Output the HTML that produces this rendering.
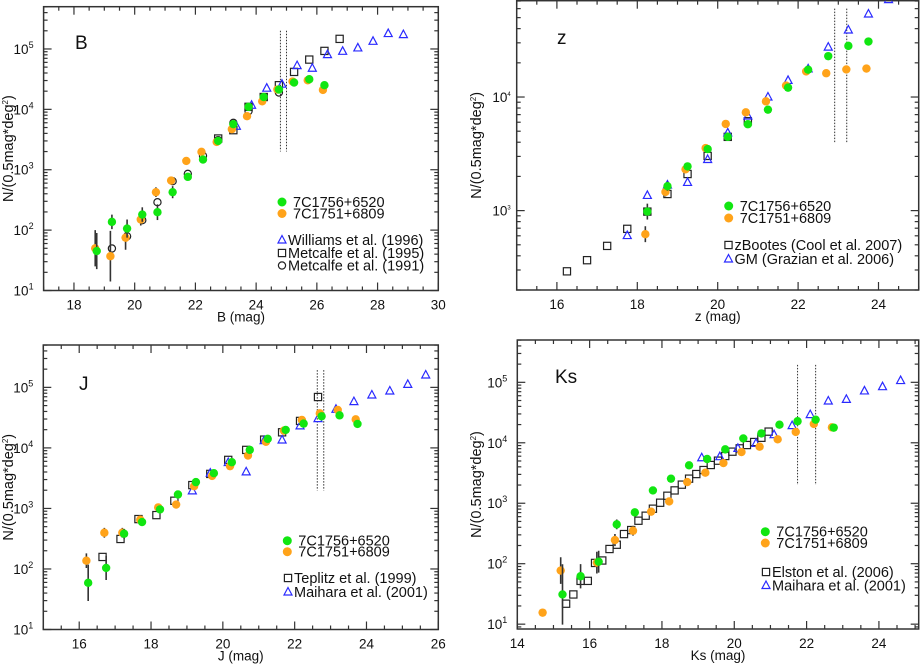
<!DOCTYPE html>
<html><head><meta charset="utf-8"><style>
html,body{margin:0;padding:0;background:#fff;}
svg{display:block;font-family:"Liberation Sans",sans-serif;}
</style></head><body>
<svg id="fig" width="920" height="664" viewBox="0 0 920 664" xmlns="http://www.w3.org/2000/svg"></svg>
<script>
// ---- Panel B data ----
const bGreenX=[18.75,19.25,19.75,20.25,20.75,21.25,21.75,22.25,22.75,23.25,23.75,24.25,24.75,25.25,25.75,26.25];
const bGreenY=[45,137,106,181,198,425,762,1475,3000,5680,11000,16000,21300,27800,31500,25100];
const bGreenErr=[0.3,0.12,0.15,0.12,0.13,0.1,0.04,0.03,0.02,0.02,0.02,0.02,0.02,0.02,0.02,0.02];
const bOrangeX=[18.7,19.2,19.7,20.2,20.7,21.2,21.7,22.2,22.7,23.2,23.7,24.2,24.7,25.2,25.7,26.2];
const bOrangeY=[50,37,75,150,425,662,1400,1980,2890,4690,7700,13600,21300,28900,30300,21000];
const bOrangeErr=[0.3,0.42,0.2,0.1,0.08,0.05,0.03,0.02,0.02,0.02,0.02,0.02,0.02,0.02,0.02,0.02];
const bSqX=[22.75,23.25,23.75,24.25,24.75,25.25,25.75,26.25,26.75];
const bSqY=[3290,4520,11000,16000,25100,41700,66700,92900,147000];
const bCircX=[19.25,19.75,20.25,20.75,21.25,21.75,22.25,22.75,23.25,23.75,24.75];
const bCircY=[49.6,79,146,290,646,855,1700,3090,5970,9330,19000];
const bTriX=[23.35,23.85,24.35,24.85,25.35,25.85,26.35,26.85,27.35,27.85,28.35,28.85];
const bTriY=[5250,11700,22400,26100,53000,48000,80700,91400,104000,134000,180000,173000];
const bLimits=[24.8,25.0];
// ---- Panel z data ----
const zGreenX=[18.25,18.75,19.25,19.75,20.25,20.75,21.25,21.75,22.25,22.75,23.25,23.75];
const zGreenY=[980,1640,2450,3480,4460,5760,7740,12100,17400,22900,28200,30800];
const zGreenErr=[0.07,0.04,0.03,0.02,0.02,0.02,0.02,0.02,0.02,0.02,0.02,0.02];
const zOrangeX=[18.2,18.7,19.2,19.7,20.2,20.7,21.2,21.7,22.2,22.7,23.2,23.7];
const zOrangeY=[620,1460,2310,3550,5800,7330,9160,12600,16800,16200,17500,17800];
const zOrangeErr=[0.07,0.04,0.03,0.02,0.02,0.02,0.02,0.02,0.02,0.02,0.02,0.02];
const zSqX=[16.25,16.75,17.25,17.75,18.25,18.75,19.25,19.75,20.25,20.75];
const zSqY=[292,366,489,691,980,1400,2100,3030,4460,6120];
const zTriX=[17.75,18.25,18.75,19.25,19.75,20.25,20.75,21.25,21.75,22.25,22.75,23.25,23.75,24.25];
const zTriY=[603,1360,1680,1770,2820,4830,6810,10000,14000,17700,27500,38900,53800,72000];
const zLimits=[22.91,23.21];
// ---- Panel J data ----
const jGreenX=[16.25,16.75,17.25,17.75,18.25,18.75,19.25,19.75,20.25,20.75,21.25,21.75,22.25,22.75,23.25,23.75];
const jGreenY=[59,104,382,596,964,1700,2720,3820,5800,9270,14100,19800,25200,33300,34500,24900];
const jGreenErr=[0.3,0.2,0.08,0.06,0.03,0.02,0.02,0.02,0.02,0.02,0.02,0.02,0.02,0.02,0.02,0.02];
const jOrangeX=[16.2,16.7,17.2,17.7,18.2,18.7,19.2,19.7,20.2,20.7,21.2,21.7,22.2,22.7,23.2,23.7];
const jOrangeY=[137,397,397,650,1040,1160,2330,3450,4990,7480,12600,19300,29000,37200,42300,29700];
const jOrangeErr=[0.12,0.08,0.08,0.05,0.03,0.03,0.02,0.02,0.02,0.02,0.02,0.02,0.02,0.02,0.02,0.02];
const jSqX=[16.65,17.15,17.65,18.15,18.65,19.15,19.65,20.15,20.65,21.15,21.65,22.15,22.65];
const jSqY=[158,313,667,776,1340,2430,3720,6340,9270,13700,18100,27900,69300];
const jTriX=[19.15,19.65,20.15,20.65,21.15,21.65,22.15,22.65,23.15,23.65,24.15,24.65,25.15,25.65];
const jTriY=[1950,3820,5730,4020,13200,13500,23100,30500,43400,58100,74800,87100,112000,160000];
const jLimits=[22.63,22.81];
// ---- Panel Ks data ----
const kGreenX=[15.25,15.75,16.25,16.75,17.25,17.75,18.25,18.75,19.25,19.75,20.25,20.75,21.25,21.75,22.25,22.75];
const kGreenY=[31,62,108,447,706,1630,2550,4240,5390,7780,11800,14300,19900,22700,24100,17800];
const kGreenErr=[0.5,0.2,0.18,0.08,0.06,0.03,0.02,0.02,0.02,0.02,0.02,0.02,0.02,0.02,0.02,0.02];
const kOrangeX=[14.7,15.2,16.2,16.7,17.2,17.7,18.2,18.7,19.2,19.7,20.2,20.7,21.2,21.7,22.2,22.7];
const kOrangeY=[15.5,77,104,246,351,725,1070,2240,3200,4620,7030,8610,11400,15100,20500,18000];
const kOrangeErr=[0.05,0.22,0.18,0.1,0.08,0.04,0.03,0.02,0.02,0.02,0.02,0.02,0.02,0.02,0.02,0.02];
const kSqX=[15.35,15.55,15.75,15.95,16.15,16.35,16.55,16.75,16.95,17.15,17.35,17.55,17.75,17.95,18.15,18.35,18.55,18.75,18.95,19.15,19.35,19.55,19.75,19.95,20.15,20.35,20.55,20.75,20.95];
const kSqY=[21.8,31,52,52,103,113,175,206,309,360,514,622,812,1020,1330,1630,2030,2550,3040,3540,4290,5060,6040,7130,8090,9180,10300,12100,15300];
const kTriX=[19.1,19.6,20.1,20.6,21.1,21.6,22.1,22.6,23.1,23.6,24.1,24.6];
const kTriY=[5660,5890,8090,9790,13600,19200,29200,49100,52300,72000,84700,107000];
const kLimits=[21.75,22.25];

const NS="http://www.w3.org/2000/svg";
const svg=document.getElementById('fig');
function el(tag,attrs,parent){const e=document.createElementNS(NS,tag);for(const k in attrs)e.setAttribute(k,attrs[k]);(parent||svg).appendChild(e);return e;}
const GREEN="#11e611",ORANGE="#ffa31a",BLUE="#2a2aff";

function panel(cfg){
  const g=el('g',{});
  
  
  const X=m=>cfg.l+(m-cfg.x0)/(cfg.x1-cfg.x0)*(cfg.r-cfg.l);
  const Y=v=>cfg.b-(Math.log10(v)-cfg.y0)/(cfg.y1-cfg.y0)*(cfg.b-cfg.t);
  const clip='clip-'+cfg.name;
  const cp=el('clipPath',{id:clip},g);el('rect',{x:cfg.l,y:cfg.t,width:cfg.r-cfg.l,height:cfg.b-cfg.t},cp);
  const fr=el('rect',{x:cfg.l,y:cfg.t,width:cfg.r-cfg.l,height:cfg.b-cfg.t,fill:'none',stroke:'#333','stroke-width':1.5},g);
  
  
  for(let m=Math.ceil(cfg.x0*2)/2;m<=cfg.x1+1e-6;m+=0.5){
    const major=Math.abs(m/2-Math.round(m/2))<1e-6;
    const L=major?8:4,x=X(m);
    el('line',{x1:x,x2:x,y1:cfg.b,y2:cfg.b-L,stroke:'#333','stroke-width':1.2},g);
    el('line',{x1:x,x2:x,y1:cfg.t,y2:cfg.t+L,stroke:'#333','stroke-width':1.2},g);
    if(major){const t=el('text',{x:x,y:cfg.b+19,'text-anchor':'middle','font-size':13.5,fill:'#111'},g);t.textContent=String(m);
      
      }
  }
  for(let d=Math.floor(cfg.y0);d<=Math.ceil(cfg.y1);d++){
    for(let k=1;k<10;k++){
      const lv=d+Math.log10(k);if(lv<cfg.y0-1e-6||lv>cfg.y1+1e-6)continue;
      const y=Y(Math.pow(10,lv)),L=k===1?8:4;
      el('line',{x1:cfg.l,x2:cfg.l+L,y1:y,y2:y,stroke:'#333','stroke-width':1.2},g);
      el('line',{x1:cfg.r,x2:cfg.r-L,y1:y,y2:y,stroke:'#333','stroke-width':1.2},g);
      if(k===1){const t=el('text',{x:cfg.l-4-(cfg.supSmall?2:6),y:y+5,'text-anchor':'end','font-size':13.5,fill:'#111'},g);
        t.textContent='10';const s=el('tspan',{dy:-6,'font-size':cfg.supSmall?6:9},t);s.textContent=String(d);
        
        }
    }
  }
  const xt=el('text',{x:(cfg.l+cfg.r)/2,y:cfg.b+31,'text-anchor':'middle','font-size':13.5,fill:'#111'},g);xt.textContent=cfg.xlabel;
  
  
  const yc=(cfg.t+cfg.b)/2,yx=cfg.ylabX;
  const yt=el('text',{x:yx,y:yc,'text-anchor':'middle','font-size':14.5,fill:'#111',transform:`rotate(-90 ${yx} ${yc})`},g);
  yt.textContent='N/(0.5mag*deg';const sp=el('tspan',{dy:-5,'font-size':8},yt);sp.textContent='2';const sp2=el('tspan',{dy:5},yt);sp2.textContent=')';
  
  
  const pl=el('text',{x:cfg.lab[0],y:cfg.lab[1],'font-size':19,fill:'#111'},g);pl.textContent=cfg.letter;
  
  
  const pg=el('g',{'clip-path':`url(#${clip})`},g);
  cfg.limits.forEach(m=>{const ln=el('line',{x1:X(m),x2:X(m),y1:Y(cfg.limTop),y2:Y(cfg.limBot),stroke:'#333','stroke-width':1,'stroke-dasharray':'1.5,1.5'},pg);
    
    });
  function sq(xs,ys){xs.forEach((m,i)=>{const r=el('rect',{x:X(m)-3.6,y:Y(ys[i])-3.6,width:7.2,height:7.2,fill:'none',stroke:'#222','stroke-width':1.2},pg);
    
    });}
  function circ(xs,ys){xs.forEach((m,i)=>{const c=el('circle',{cx:X(m),cy:Y(ys[i]),r:3.6,fill:'none',stroke:'#222','stroke-width':1.2},pg);
    
    });}
  function tri(xs,ys){xs.forEach((m,i)=>{const x=X(m),y=Y(ys[i]);const p=el('polygon',{points:`${x},${y-4.5} ${x-4},${y+3} ${x+4},${y+3}`,fill:'none',stroke:BLUE,'stroke-width':1.2},pg);
    
    });}
  function dots(xs,ys,errs,col,nm){xs.forEach((m,i)=>{const x=X(m),v=ys[i],e=errs[i];
    const eb=el('line',{x1:x,x2:x,y1:Y(v*Math.pow(10,e)),y2:Y(v/Math.pow(10,e)),stroke:'#333','stroke-width':1.6},pg);
    
    
    const c=el('circle',{cx:x,cy:Y(v),r:4.2,fill:col},pg);
    
    });}
  cfg.draw({sq,circ,tri,dots});
  const lg=el('g',{},g);
  
  
  cfg.legend.forEach(it=>{const [kind,lx,ly,txt]=it;
    if(kind==='g'||kind==='o')el('circle',{cx:lx,cy:ly,r:4.5,fill:kind==='g'?GREEN:ORANGE},lg);
    if(kind==='s')el('rect',{x:lx-3.6,y:ly-3.6,width:7.2,height:7.2,fill:'none',stroke:'#222','stroke-width':1.2},lg);
    if(kind==='c')el('circle',{cx:lx,cy:ly,r:3.6,fill:'none',stroke:'#222','stroke-width':1.2},lg);
    if(kind==='t')el('polygon',{points:`${lx},${ly-4.5} ${lx-4},${ly+3} ${lx+4},${ly+3}`,fill:'none',stroke:BLUE,'stroke-width':1.2},lg);
    const t=el('text',{x:lx+(kind==='g'||kind==='o'?11:6),y:ly+5,'font-size':14.5,fill:'#111'},lg);t.textContent=txt;
    
    });
}

panel({name:'b-band',l:43.6,r:438.3,t:6.7,b:290.5,x0:17,x1:30,y0:1,y1:5.7,xlabel:'B (mag)',ylabX:13,letter:'B',lab:[75,49],
  limits:bLimits,limTop:2e5,limBot:2000,
  draw:f=>{f.sq(bSqX,bSqY);f.circ(bCircX,bCircY);f.tri(bTriX,bTriY);f.dots(bOrangeX,bOrangeY,bOrangeErr,ORANGE,'7c1751-point');f.dots(bGreenX,bGreenY,bGreenErr,GREEN,'7c1756-point');},
  legend:[['g',282,202,'7C1756+6520'],['o',282,213.5,'7C1751+6809'],['t',282,240,'Williams et al. (1996)'],['s',282,253,'Metcalfe et al. (1995)'],['c',282,265.5,'Metcalfe et al. (1991)']]});
panel({name:'z-band',l:516.7,r:918.7,t:0.7,b:290,x0:15,x1:25,y0:Math.log10(200),y1:4.848,xlabel:'z (mag)',ylabX:481,letter:'z',lab:[557,44],supSmall:true,
  limits:zLimits,limTop:60000,limBot:3950,
  draw:f=>{f.sq(zSqX,zSqY);f.tri(zTriX,zTriY);f.dots(zOrangeX,zOrangeY,zOrangeErr,ORANGE,'7c1751-point');f.dots(zGreenX,zGreenY,zGreenErr,GREEN,'7c1756-point');},
  legend:[['g',728.7,206,'7C1756+6520'],['o',728.7,218,'7C1751+6809'],['s',728.5,245,'zBootes (Cool et al. 2007)'],['t',728.5,259,'GM (Grazian et al. 2006)']]});
panel({name:'j-band',l:43.3,r:438.3,t:345,b:629.5,x0:15,x1:26,y0:1,y1:5.7,xlabel:'J (mag)',ylabX:13,letter:'J',lab:[79,390],
  limits:jLimits,limTop:193000,limBot:1980,
  draw:f=>{f.sq(jSqX,jSqY);f.tri(jTriX,jTriY);f.dots(jOrangeX,jOrangeY,jOrangeErr,ORANGE,'7c1751-point');f.dots(jGreenX,jGreenY,jGreenErr,GREEN,'7c1756-point');},
  legend:[['g',287.3,540.7,'7C1756+6520'],['o',287.3,551.7,'7C1751+6809'],['s',288,578,'Teplitz et al. (1999)'],['t',288,592,'Maihara et al. (2001)']]});
panel({name:'ks-band',l:517.3,r:918.7,t:340,b:629,x0:14,x1:25.1,y0:0.92,y1:5.7,xlabel:'Ks (mag)',ylabX:481,letter:'Ks',lab:[555,383],
  limits:kLimits,limTop:194000,limBot:2000,
  draw:f=>{f.sq(kSqX,kSqY);f.tri(kTriX,kTriY);f.dots(kOrangeX,kOrangeY,kOrangeErr,ORANGE,'7c1751-point');f.dots(kGreenX,kGreenY,kGreenErr,GREEN,'7c1756-point');},
  legend:[['g',765.3,531.7,'7C1756+6520'],['o',765.3,543,'7C1751+6809'],['s',766,572,'Elston et al. (2006)'],['t',766,585.5,'Maihara et al. (2001)']]});
</script>
</body></html>
